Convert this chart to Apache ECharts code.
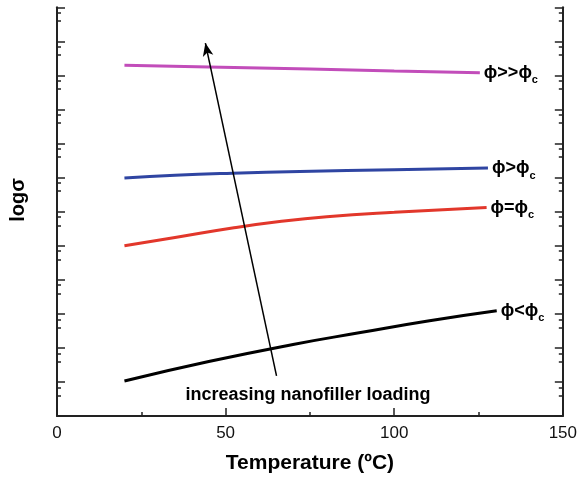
<!DOCTYPE html>
<html>
<head>
<meta charset="utf-8">
<script src="https://cdn.jsdelivr.net/npm/echarts@6/dist/echarts.min.js"></script>
<style>
html,body{margin:0;padding:0;background:#fff;}
#c{width:580px;height:479px;}
</style>
</head>
<body>
<div id="c"></div>
<script>
// ---- data ----
const xTicks = [0, 50, 100, 150];
const yMajorRange = [0, 12];
const yMinorOffsets = [0.40, 0.16]; // minor ticks below each major tick

const xMagenta = [20, 45, 75, 100, 125.4];
const yMagenta = [10.30, 10.25, 10.19, 10.13, 10.08];

const xBlue = [20, 35, 52, 72, 100, 127.8];
const yBlue = [6.99, 7.07, 7.13, 7.18, 7.23, 7.28];

const xRed = [20, 35, 52, 66, 80, 100, 127.4];
const yRed = [5.00, 5.24, 5.52, 5.71, 5.85, 5.98, 6.12];

const xBlack = [20, 45, 70, 90, 110, 130.4];
const yBlack = [1.03, 1.60, 2.10, 2.45, 2.79, 3.09];

const arrowStart = [65.1, 1.18];
const arrowEnd = [44.0, 10.95];

const seriesLabels = [
  ['ϕ>>ϕ', 'c'],
  ['ϕ>ϕ', 'c'],
  ['ϕ=ϕ', 'c'],
  ['ϕ<ϕ', 'c']
];

const pairs = (xs, ys) => xs.map((x, i) => [x, ys[i]]);

const minorTickValues = [];
for (let k = yMajorRange[0] + 1; k <= yMajorRange[1]; k++) {
  yMinorOffsets.forEach(o => minorTickValues.push(+(k - o).toFixed(3)));
}

const FONT = '"Liberation Sans", Arial, sans-serif';
const AX = '#222';

function endLabel(i) {
  return {
    show: true,
    distance: 4,
    formatter: '{m|' + seriesLabels[i][0] + '}{s|' + seriesLabels[i][1] + '}',
    rich: {
      m: { fontFamily: FONT, fontWeight: 'bold', fontSize: 18, color: '#000', lineHeight: 26, verticalAlign: 'middle' },
      s: { fontFamily: FONT, fontWeight: 'bold', fontSize: 11, color: '#000', lineHeight: 11, verticalAlign: 'bottom' }
    }
  };
}

function mkSeries(name, data, color, i, extra) {
  return Object.assign({
    name: name,
    type: 'line',
    data: data,
    smooth: 0.5,
    showSymbol: false,
    symbol: 'none',
    lineStyle: { color: color, width: 3 },
    endLabel: endLabel(i),
    silent: true,
    animation: false
  }, extra || {});
}

const yBase = {
  type: 'value',
  min: yMajorRange[0],
  max: yMajorRange[1],
  interval: 1,
  axisLabel: { show: false },
  splitLine: { show: false }
};

const chart = echarts.init(document.getElementById('c'), null, { renderer: 'canvas' });
chart.setOption({
  animation: false,
  backgroundColor: '#fff',
  grid: { left: 57, right: 17, top: 7.3, bottom: 63, containLabel: false },
  xAxis: {
    type: 'value',
    min: xTicks[0],
    max: xTicks[xTicks.length - 1],
    interval: 50,
    name: 'Temperature (ºC)',
    nameLocation: 'middle',
    nameGap: 37,
    nameTextStyle: { fontFamily: FONT, fontWeight: 'bold', fontSize: 21, color: '#000' },
    axisLine: { show: true, onZero: false, lineStyle: { color: AX, width: 2 } },
    axisTick: { show: true, inside: true, length: 8, lineStyle: { color: AX, width: 1.5 } },
    minorTick: { show: true, splitNumber: 2, length: 4, lineStyle: { color: AX, width: 1.5 } },
    axisLabel: { fontFamily: FONT, fontSize: 17, color: '#111', margin: 9 },
    splitLine: { show: false }
  },
  yAxis: [
    Object.assign({}, yBase, {
      position: 'left',
      axisLine: { show: true, onZero: false, lineStyle: { color: AX, width: 2 } },
      axisTick: { show: true, inside: true, length: 8, lineStyle: { color: AX, width: 1.5 } }
    }),
    Object.assign({}, yBase, {
      position: 'left',
      axisLine: { show: false },
      axisTick: { show: true, inside: true, length: 4, customValues: minorTickValues, lineStyle: { color: AX, width: 1.5 } }
    }),
    Object.assign({}, yBase, {
      position: 'right',
      axisLine: { show: true, onZero: false, lineStyle: { color: AX, width: 2 } },
      axisTick: { show: true, inside: true, length: 8, lineStyle: { color: AX, width: 1.5 } }
    }),
    Object.assign({}, yBase, {
      position: 'right',
      axisLine: { show: false },
      axisTick: { show: true, inside: true, length: 4, customValues: minorTickValues, lineStyle: { color: AX, width: 1.5 } }
    })
  ],
  series: [
    mkSeries('magenta', pairs(xMagenta, yMagenta), '#C24DBA', 0),
    mkSeries('blue', pairs(xBlue, yBlue), '#2F45A2', 1),
    mkSeries('red', pairs(xRed, yRed), '#E2372B', 2),
    mkSeries('black', pairs(xBlack, yBlack), '#000000', 3, {
      markLine: {
        silent: true,
        animation: false,
        symbol: ['none', 'arrow'],
        symbolSize: [8, 13],
        label: { show: false },
        lineStyle: { color: '#000', width: 1.5, type: 'solid' },
        data: [[{ coord: arrowStart }, { coord: arrowEnd }]]
      }
    })
  ],
  graphic: [
    {
      type: 'text',
      x: 308, y: 395,
      style: {
        text: 'increasing nanofiller loading',
        font: 'bold 18px ' + FONT,
        fill: '#000',
        align: 'center',
        verticalAlign: 'middle'
      }
    },
    {
      type: 'text',
      x: 18, y: 200,
      rotation: Math.PI / 2,
      style: {
        text: 'logσ',
        font: 'bold 20px ' + FONT,
        fill: '#000',
        align: 'center',
        verticalAlign: 'middle'
      }
    }
  ]
});
</script>
</body>
</html>
